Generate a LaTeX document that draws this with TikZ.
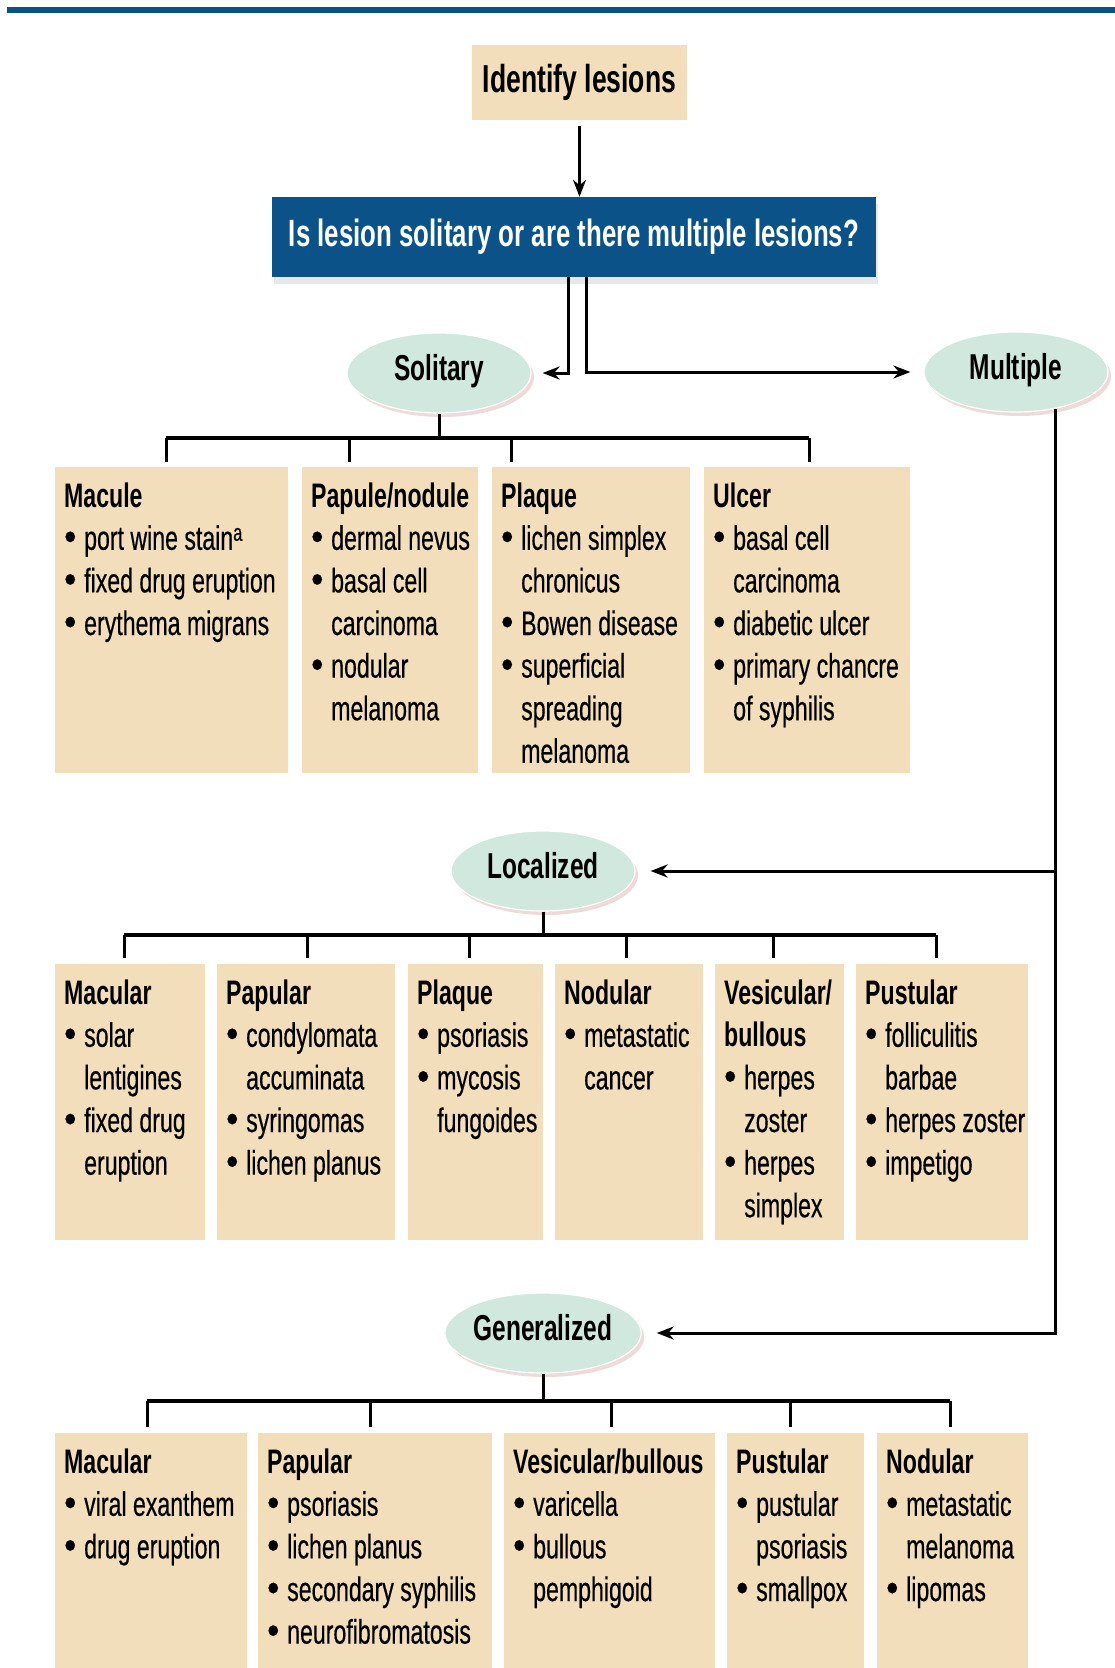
\documentclass[tikz,border=0pt]{standalone}
\usepackage{fontspec}
\setmainfont{Liberation Sans}[FakeStretch=0.68,UprightFeatures={FakeBold=0.4}]
\usetikzlibrary{arrows.meta,shapes.geometric,shadows}

\definecolor{lestan}{HTML}{F2DEBA}
\definecolor{lesblue}{HTML}{0A5287}
\definecolor{mint}{HTML}{D0E8DE}

% one tan cell: width, height, lines
\newcommand{\lescell}[3]{\parbox[t][#2][t]{#1}{\fontsize{34}{42.6}\selectfont\raggedright\leftskip=9pt\rule{0pt}{40pt}#3}}
\newcommand{\ttl}[1]{\mbox{\bfseries #1}}
\newcommand{\itm}[1]{\makebox[20pt][l]{\scalebox{1.5}[1.15]{\textbullet}}\mbox{#1}}
\newcommand{\cnt}[1]{\hspace*{20pt}\mbox{#1}}

\begin{document}
\begin{tikzpicture}[x=1pt,y=-1pt,
	arrow/.style={line width=3pt,-{Stealth[length=17pt,width=13pt]}},
	conn/.style={line width=3pt},
	bar/.style={line width=4pt},
	lesbox/.style={fill=lestan,inner sep=0pt,anchor=north west},
	oval/.style={ellipse,fill=mint,draw=white,line width=1.2pt,minimum width=184pt,minimum height=80pt,inner sep=0pt,text height=27pt,text depth=13pt,font=\bfseries\fontsize{36}{40}\selectfont,drop shadow={fill=red!40!gray!60,opacity=0.35,shadow xshift=3pt,shadow yshift=-4pt}}]
	\useasboundingbox (0,0) rectangle (1115,1668);
	\fill[lesblue] (7,7) rectangle (1115,13);
	
	\node[fill=lestan,minimum width=215pt,minimum height=75pt,font=\bfseries\fontsize{39}{42}\selectfont] (id) at (579.5,82.5) {Identify lesions};
	\node[fill=lesblue,text=white,minimum width=604pt,minimum height=80pt,font=\bfseries\fontsize{38}{42}\selectfont,drop shadow={fill=black!30,opacity=0.3,shadow xshift=2pt,shadow yshift=-7pt}] (q) at (574,237) {Is lesion solitary or are there multiple lesions?};
	\draw[arrow,shorten <=6pt] (id.south) -- (id.south |- q.north);
	
	\node[oval] (sol) at (439,373) {Solitary};
	\node[oval] (mul) at (1016,372) {Multiple};
	\node[oval] (loc) at (543,871) {Localized};
	\node[oval] (gen) at (543,1333) {Generalized};
	
	\draw[arrow,shorten >=11pt] ([xshift=-6pt]q.south) |- (sol.east);
	\draw[arrow,shorten >=13pt] ([xshift=12pt]q.south) |- (mul.west);
	\draw[arrow,shorten >=15pt] (mul.-43) |- (gen.east);
	\draw[arrow,shorten >=15pt] (mul.-43 |- loc.east) -- (loc.east);
	
	% solitary
	\node[lesbox] (smac) at (55,467) {\lescell{233pt}{306pt}{\ttl{Macule}\\\itm{port wine stain\textsuperscript{a}}\\\itm{fixed drug eruption}\\\itm{erythema migrans}}};
	\node[lesbox] (spap) at (302,467) {\lescell{176pt}{306pt}{\ttl{Papule/nodule}\\\itm{dermal nevus}\\\itm{basal cell}\\\cnt{carcinoma}\\\itm{nodular}\\\cnt{melanoma}}};
	\node[lesbox] (spla) at (492,467) {\lescell{198pt}{306pt}{\ttl{Plaque}\\\itm{lichen simplex}\\\cnt{chronicus}\\\itm{Bowen disease}\\\itm{superficial}\\\cnt{spreading}\\\cnt{melanoma}}};
	\node[lesbox] (sulc) at (704,467) {\lescell{206pt}{306pt}{\ttl{Ulcer}\\\itm{basal cell}\\\cnt{carcinoma}\\\itm{diabetic ulcer}\\\itm{primary chancre}\\\cnt{of syphilis}}};
	
	% localized
	\node[lesbox] (lmac) at (55,964) {\lescell{150pt}{276pt}{\ttl{Macular}\\\itm{solar}\\\cnt{lentigines}\\\itm{fixed drug}\\\cnt{eruption}}};
	\node[lesbox] (lpap) at (217,964) {\lescell{178pt}{276pt}{\ttl{Papular}\\\itm{condylomata}\\\cnt{accuminata}\\\itm{syringomas}\\\itm{lichen planus}}};
	\node[lesbox] (lpla) at (408,964) {\lescell{135pt}{276pt}{\ttl{Plaque}\\\itm{psoriasis}\\\itm{mycosis}\\\cnt{fungoides}}};
	\node[lesbox] (lnod) at (555,964) {\lescell{148pt}{276pt}{\ttl{Nodular}\\\itm{metastatic}\\\cnt{cancer}}};
	\node[lesbox] (lves) at (715,964) {\lescell{129pt}{276pt}{\ttl{Vesicular/}\\\ttl{bullous}\\\itm{herpes}\\\cnt{zoster}\\\itm{herpes}\\\cnt{simplex}}};
	\node[lesbox] (lpus) at (856,964) {\lescell{172pt}{276pt}{\ttl{Pustular}\\\itm{folliculitis}\\\cnt{barbae}\\\itm{herpes zoster}\\\itm{impetigo}}};
	
	% generalized
	\node[lesbox] (gmac) at (55,1433) {\lescell{192pt}{236pt}{\ttl{Macular}\\\itm{viral exanthem}\\\itm{drug eruption}}};
	\node[lesbox] (gpap) at (258,1433) {\lescell{234pt}{236pt}{\ttl{Papular}\\\itm{psoriasis}\\\itm{lichen planus}\\\itm{secondary syphilis}\\\itm{neurofibromatosis}}};
	\node[lesbox] (gves) at (504,1433) {\lescell{211pt}{236pt}{\ttl{Vesicular/bullous}\\\itm{varicella}\\\itm{bullous}\\\cnt{pemphigoid}}};
	\node[lesbox] (gpus) at (727,1433) {\lescell{137pt}{236pt}{\ttl{Pustular}\\\itm{pustular}\\\cnt{psoriasis}\\\itm{smallpox}}};
	\node[lesbox] (gnod) at (877,1433) {\lescell{151pt}{236pt}{\ttl{Nodular}\\\itm{metastatic}\\\cnt{melanoma}\\\itm{lipomas}}};
	
	% branch bars
	\coordinate (sL) at (166,438); \coordinate (sR) at (809,438);
	\coordinate (lL) at (124,935); \coordinate (lR) at (936,935);
	\coordinate (gL) at (147,1401); \coordinate (gR) at (950,1401);
	\draw[conn] (sol.south) -- (sol.south |- sL);
	\draw[conn] (loc.south) -- (loc.south |- lL);
	\draw[conn] (gen.south) -- (gen.south |- gL);
	\draw[bar] (sL) -- (sR) (lL) -- (lR) (gL) -- (gR);
	\foreach \x/\b in {166/smac,349/spap,511/spla,809/sulc}
	{\coordinate (d) at (\x,438); \draw[conn,shorten >=5pt] (d) -- (d |- \b.north);}
	\foreach \x/\b in {124/lmac,307/lpap,469/lpla,626/lnod,773/lves,936/lpus}
	{\coordinate (d) at (\x,935); \draw[conn,shorten >=6pt] (d) -- (d |- \b.north);}
	\foreach \x/\b in {147/gmac,370/gpap,611/gves,790/gpus,950/gnod}
	{\coordinate (d) at (\x,1401); \draw[conn,shorten >=6pt] (d) -- (d |- \b.north);}
\end{tikzpicture}
\end{document}
